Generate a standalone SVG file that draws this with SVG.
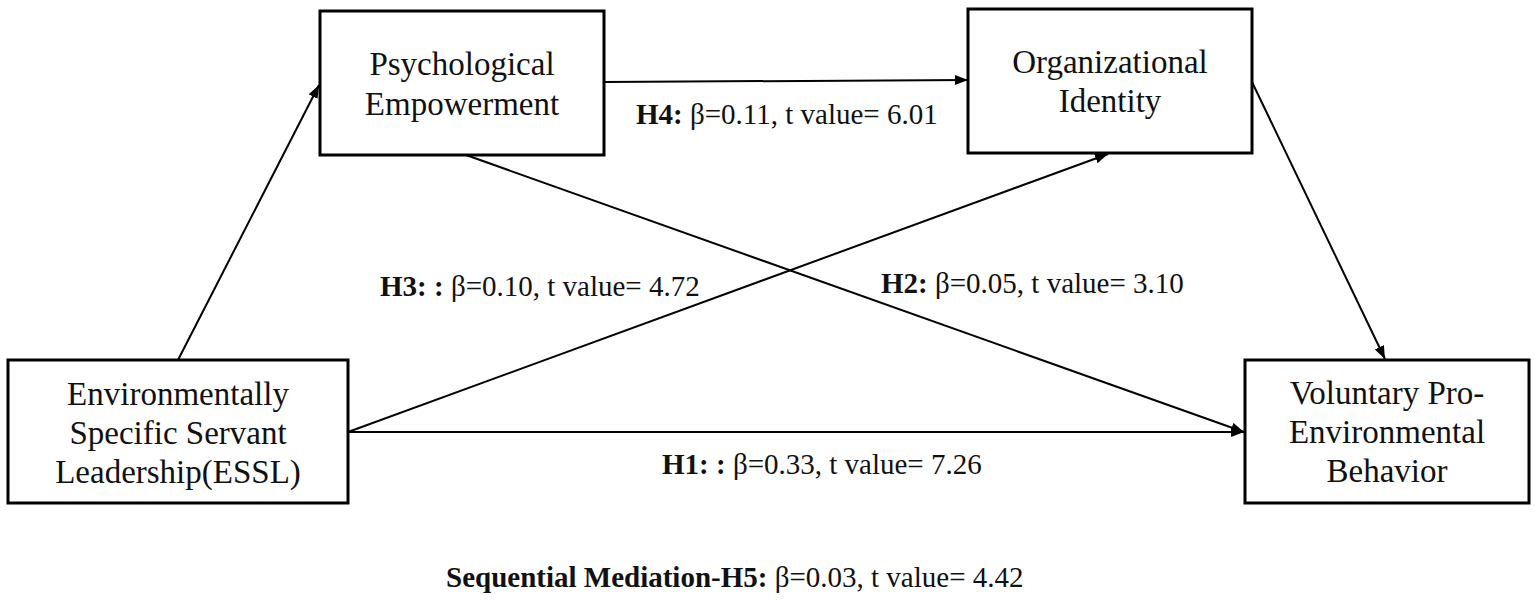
<svg xmlns="http://www.w3.org/2000/svg" width="1535" height="600" viewBox="0 0 1535 600">
<style>
.box{fill:#fff;stroke:#000;stroke-width:3}
.node{font-family:"Liberation Serif","Times New Roman",serif;font-size:33px;fill:#111;text-anchor:middle}
.lbl{font-family:"Liberation Serif","Times New Roman",serif;font-size:29px;fill:#111}
.b{font-weight:bold}
.conn{stroke:#000;stroke-width:2;fill:none;marker-end:url(#ah)}
</style>
<defs>
<marker id="ah" markerUnits="userSpaceOnUse" markerWidth="14" markerHeight="12" refX="13" refY="5" orient="auto">
<path d="M0,0 L13,5 L0,10 Z" fill="#000"/>
</marker>
</defs>
<rect width="1535" height="600" fill="#fff"/>
<g id="connectors">
<line class="conn" x1="178" y1="360" x2="319" y2="85"/>
<line class="conn" x1="604" y1="82" x2="968" y2="80"/>
<line class="conn" x1="466" y1="155" x2="1244" y2="432"/>
<line class="conn" x1="348" y1="432" x2="1108" y2="154"/>
<line class="conn" x1="348" y1="432" x2="1244" y2="432"/>
<line class="conn" x1="1252" y1="82" x2="1385" y2="359"/>
</g>
<g id="pe">
<rect class="box" x="320" y="11" width="284" height="144"/>
<text class="node" x="462" y="75">Psychological</text>
<text class="node" x="462" y="115">Empowerment</text>
</g>
<g id="oi">
<rect class="box" x="968" y="9" width="284" height="144"/>
<text class="node" x="1110" y="73">Organizational</text>
<text class="node" x="1110" y="112">Identity</text>
</g>
<g id="essl">
<rect class="box" x="8" y="360" width="340" height="143"/>
<text class="node" x="178" y="405">Environmentally</text>
<text class="node" x="178" y="444">Specific Servant</text>
<text class="node" x="178" y="483">Leadership(ESSL)</text>
</g>
<g id="vpeb">
<rect class="box" x="1245" y="360" width="284" height="143"/>
<text class="node" x="1387" y="404">Voluntary Pro-</text>
<text class="node" x="1387" y="443">Environmental</text>
<text class="node" x="1387" y="482">Behavior</text>
</g>
<g id="labels">
<text class="lbl" x="636" y="124"><tspan class="b">H4:</tspan> β=0.11, t value= 6.01</text>
<text class="lbl" x="380" y="296"><tspan class="b">H3: :</tspan> β=0.10, t value= 4.72</text>
<text class="lbl" x="881" y="293"><tspan class="b">H2:</tspan> β=0.05, t value= 3.10</text>
<text class="lbl" x="662" y="474"><tspan class="b">H1: :</tspan> β=0.33, t value= 7.26</text>
<text class="lbl" x="446" y="587"><tspan class="b">Sequential Mediation-H5:</tspan> β=0.03, t value= 4.42</text>
</g>
</svg>
